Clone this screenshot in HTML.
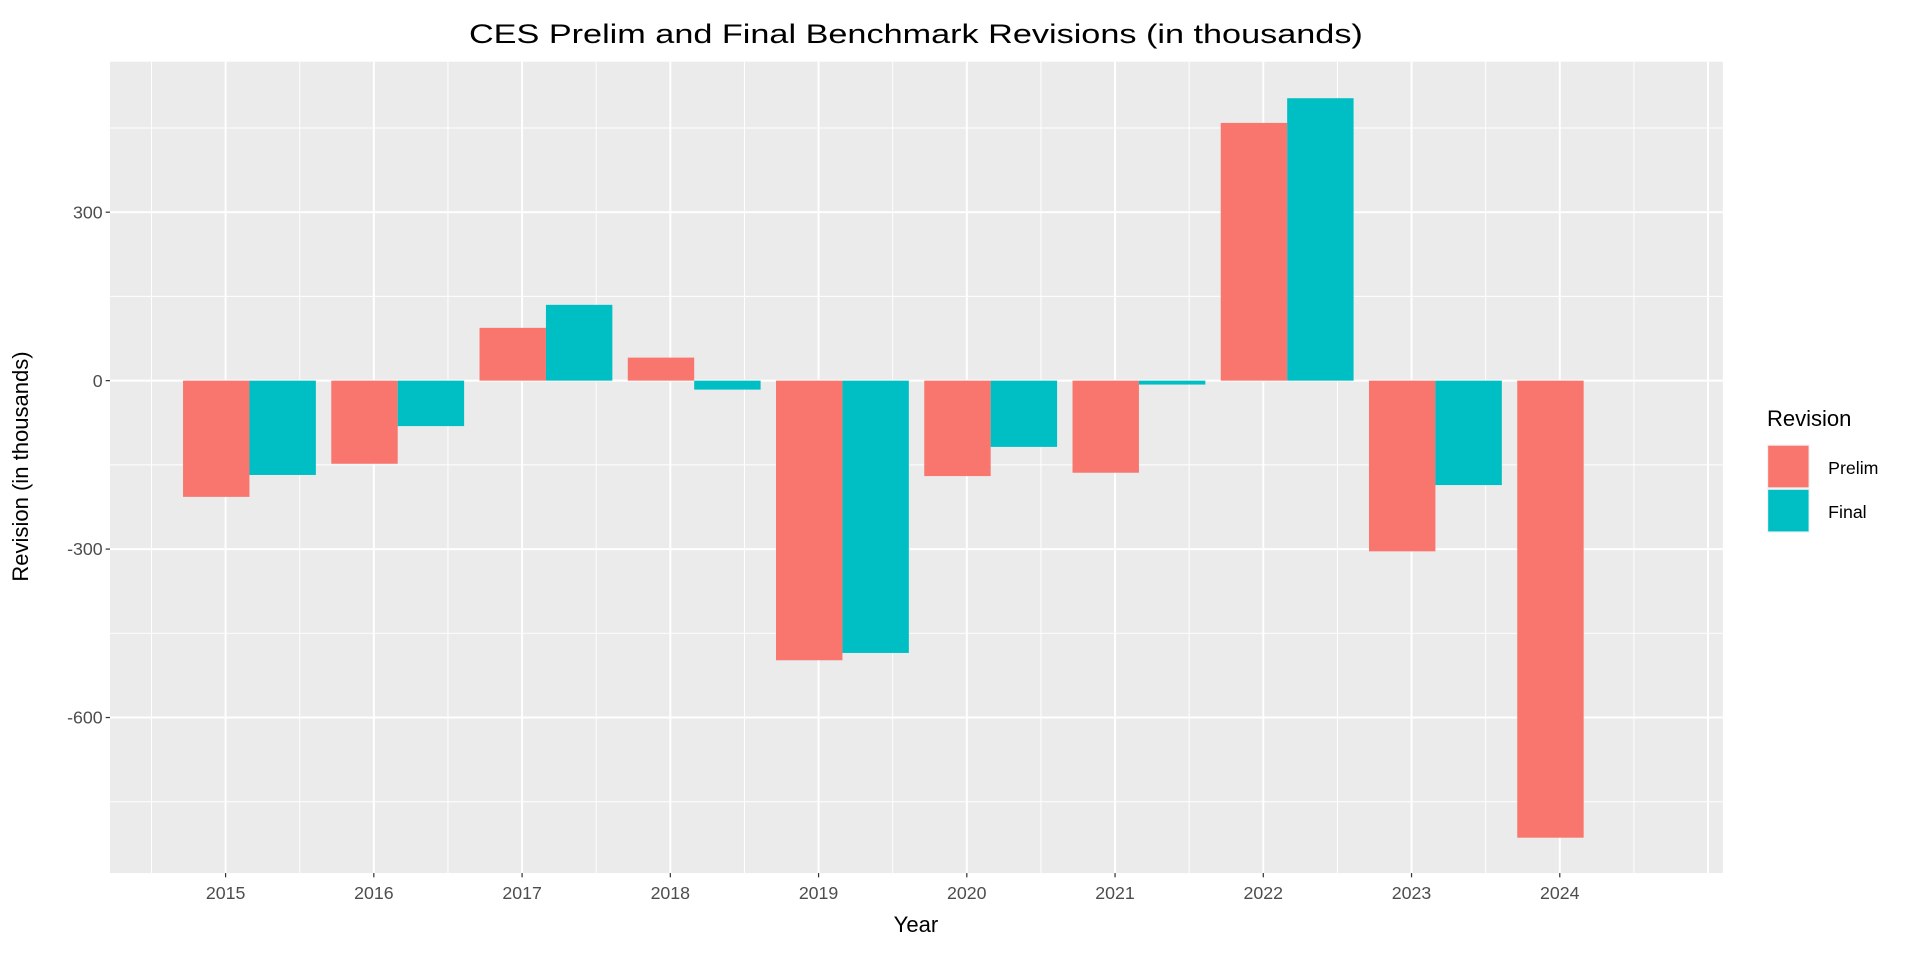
<!DOCTYPE html>
<html><head><meta charset="utf-8"><style>
html,body{margin:0;padding:0;background:#fff;}
svg{display:block;font-family:"Liberation Sans",Arial,sans-serif;}
</style></head><body>
<svg id="chart" width="1920" height="960" viewBox="0 0 1568 784" xmlns="http://www.w3.org/2000/svg">
<rect x="0" y="0" width="1568" height="784" fill="#fff"/>
<text x="748" y="35" font-size="22" text-anchor="middle" textLength="730" lengthAdjust="spacingAndGlyphs" fill="#000">CES Prelim and Final Benchmark Revisions (in thousands)</text>
<rect x="89.8" y="50.4" width="1317.2" height="662.6" fill="#ebebeb"/>
<g id="grid"></g>
<g id="bars"></g>
<g id="axes"></g>
<text x="748" y="761" font-size="18" text-anchor="middle" fill="#000">Year</text>
<text transform="translate(23,381) rotate(-90)" font-size="18" text-anchor="middle" fill="#000">Revision (in thousands)</text>
<g>
<text x="1443" y="348" font-size="18" fill="#000">Revision</text>
<rect x="1443" y="363" width="35" height="36" fill="#f2f2f2"/>
<rect x="1444" y="364" width="33" height="34" fill="#F8766D"/>
<text x="1493" y="387" font-size="14.5" fill="#000">Prelim</text>
<rect x="1443" y="399" width="35" height="36" fill="#f2f2f2"/>
<rect x="1444" y="400" width="33" height="34" fill="#00BFC4"/>
<text x="1493" y="423" font-size="14.5" fill="#000">Final</text>
</g>
</svg>
<script>
const years = [2015,2016,2017,2018,2019,2020,2021,2022,2023,2024];
const prelimValues = [-207,-148,94,41,-498,-170,-164,459,-304,-814];
const finalValues = [-168,-81,135,-16,-485,-118,-7,503,-186,null];
const yTickValues = [-600,-300,0,300];
const yTickLabels = ["-600","-300","0","300"];
const xTickLabels = ["2015","2016","2017","2018","2019","2020","2021","2022","2023","2024"];

const NS = "http://www.w3.org/2000/svg";
const px0 = 89.8, px1 = 1407, py0 = 50.4, py1 = 713;
const xMin = 2014.22, xMax = 2025.10, yMin = -877, yMax = 568;
function xs(v){ return px0 + (v - xMin) / (xMax - xMin) * (px1 - px0); }
function ys(v){ return py1 - (v - yMin) / (yMax - yMin) * (py1 - py0); }
function mk(tag, attrs, parent){ const e = document.createElementNS(NS, tag); for (const k in attrs) e.setAttribute(k, attrs[k]); parent.appendChild(e); return e; }

const grid = document.getElementById('grid');
for (let v = 2014.5; v <= 2025.01; v += 1) {
  const l = mk('line', {x1: xs(v), x2: xs(v), y1: py0, y2: py1, stroke: '#fff', 'stroke-width': 0.8}, grid);
  
  
}
for (let v = 2015; v <= 2025; v += 1) {
  const l = mk('line', {x1: xs(v), x2: xs(v), y1: py0, y2: py1, stroke: '#fff', 'stroke-width': 1.6}, grid);
  
  
}
for (let v = -750; v <= 450; v += 300) {
  const l = mk('line', {x1: px0, x2: px1, y1: ys(v), y2: ys(v), stroke: '#fff', 'stroke-width': 0.8}, grid);
  
  
}
yTickValues.forEach(v => {
  const l = mk('line', {x1: px0, x2: px1, y1: ys(v), y2: ys(v), stroke: '#fff', 'stroke-width': 1.6}, grid);
  
  
});

const bars = document.getElementById('bars');
const off = 0.161, bw = 0.448;
years.forEach((yr, i) => {
  const c = yr + off;
  const p = prelimValues[i];
  if (p !== null) {
    const r = mk('rect', {x: xs(c - bw), width: xs(c) - xs(c - bw), y: Math.min(ys(p), ys(0)), height: Math.abs(ys(p) - ys(0)), fill: '#F8766D'}, bars);
    
    
  }
  const f = finalValues[i];
  if (f !== null) {
    const r = mk('rect', {x: xs(c), width: xs(c + bw) - xs(c), y: Math.min(ys(f), ys(0)), height: Math.abs(ys(f) - ys(0)), fill: '#00BFC4'}, bars);
    
    
  }
});

const axes = document.getElementById('axes');
yTickValues.forEach((v, i) => {
  const t = mk('line', {x1: px0 - 3.5, x2: px0, y1: ys(v), y2: ys(v), stroke: '#333', 'stroke-width': 1}, axes);
  
  
  const tx = mk('text', {x: px0 - 6, y: ys(v) + 5, 'font-size': 14.5, 'text-anchor': 'end', fill: '#4d4d4d'}, axes);
  tx.textContent = yTickLabels[i];
  
  
});
years.forEach((yr, i) => {
  const t = mk('line', {x1: xs(yr), x2: xs(yr), y1: py1, y2: py1 + 3.5, stroke: '#333', 'stroke-width': 1}, axes);
  
  
  const tx = mk('text', {x: xs(yr), y: py1 + 21, 'font-size': 14.5, 'text-anchor': 'middle', fill: '#4d4d4d'}, axes);
  tx.textContent = xTickLabels[i];
  
  
});
</script>
</body></html>
